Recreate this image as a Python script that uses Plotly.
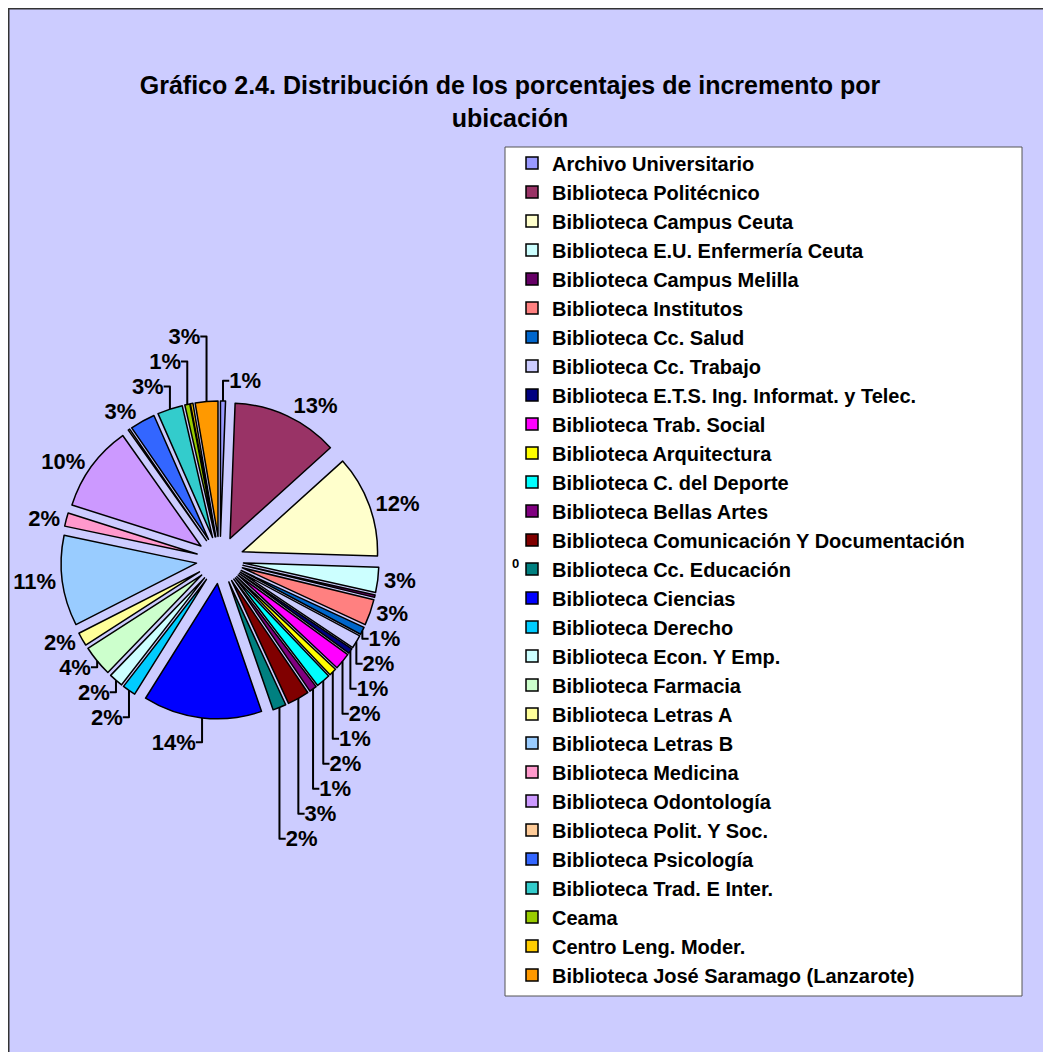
import plotly.graph_objects as go

# ---- data ----
labels = [
    "Archivo Universitario",
    "Biblioteca Politécnico",
    "Biblioteca Campus Ceuta",
    "Biblioteca E.U. Enfermería Ceuta",
    "Biblioteca Campus Melilla",
    "Biblioteca Institutos",
    "Biblioteca Cc. Salud",
    "Biblioteca Cc. Trabajo",
    "Biblioteca E.T.S. Ing. Informat. y Telec.",
    "Biblioteca Trab. Social",
    "Biblioteca Arquitectura",
    "Biblioteca C. del Deporte",
    "Biblioteca Bellas Artes",
    "Biblioteca Comunicación Y Documentación",
    "Biblioteca Cc. Educación",
    "Biblioteca Ciencias",
    "Biblioteca Derecho",
    "Biblioteca Econ. Y Emp.",
    "Biblioteca Farmacia",
    "Biblioteca Letras A",
    "Biblioteca Letras B",
    "Biblioteca Medicina",
    "Biblioteca Odontología",
    "Biblioteca Polit. Y Soc.",
    "Biblioteca Psicología",
    "Biblioteca Trad. E Inter.",
    "Ceama",
    "Centro Leng. Moder.",
    "Biblioteca José Saramago (Lanzarote)",
]
values = [
    0.6, 12.7, 12.2, 3.0, 0.3, 3.1, 0.9, 1.6, 0.6, 2.0,
    0.9, 1.7, 0.9, 2.6, 1.6, 14.2, 1.6, 1.7, 3.7, 1.6,
    10.8, 1.6, 10.3, 0.2, 3.0, 3.0, 0.6, 0.3, 2.7,
]
colors = [
    "#9999FF", "#993366", "#FFFFCC", "#CCFFFF", "#660066", "#FF8080",
    "#0066CC", "#CCCCFF", "#000080", "#FF00FF", "#FFFF00", "#00FFFF",
    "#800080", "#800000", "#008080", "#0000FF", "#00CCFF", "#CCFFFF",
    "#CCFFCC", "#FFFF99", "#99CCFF", "#FF99CC", "#CC99FF", "#FFCC99",
    "#3366FF", "#33CCCC", "#99CC00", "#FFCC00", "#FF9900",
]
title_text = "Gráfico 2.4. Distribución de los porcentajes de incremento por<br>ubicación"

W, H = 1051, 1052
FONT = "Arial, Liberation Sans, sans-serif"

total = sum(values)
templates = ["%{percent:.0%}" if v / total >= 0.005 else "" for v in values]

fig = go.Figure()
fig.add_trace(go.Pie(
    labels=labels,
    values=values,
    sort=False,
    direction="clockwise",
    rotation=0,
    pull=[0.175] * len(values),
    marker=dict(colors=colors, line=dict(color="black", width=1.5)),
    texttemplate=templates,
    textposition="outside",
    textfont=dict(family=FONT, size=22, color="black", weight="bold"),
    domain=dict(x=[52 / W, 372 / W], y=[1 - 711 / H, 1 - 393 / H]),
    hoverinfo="label+percent",
    showlegend=True,
))

shapes = [
    # chart area frame
    dict(type="rect", xref="paper", yref="paper",
         x0=0.5 / W, x1=1.02, y0=-0.02, y1=1 - 0.5 / H,
         fillcolor="#CCCCFF", line=dict(color="#333333", width=2), layer="below"),
    # legend box
    dict(type="rect", xref="paper", yref="paper",
         x0=497 / W, x1=1014 / W, y0=1 - 988 / H, y1=1 - 139 / H,
         fillcolor="white", line=dict(color="#555555", width=1), layer="below"),
]

fig.update_layout(
    width=W, height=H,
    margin=dict(l=0, r=0, t=0, b=0, autoexpand=False),
    paper_bgcolor="#CCCCFF",
    plot_bgcolor="#CCCCFF",
    font=dict(family=FONT, color="black"),
    title=dict(
        text=title_text,
        x=502 / W, xanchor="center",
        y=1 - 86 / H, yanchor="top",
        font=dict(family=FONT, size=25, color="black", weight="bold"),
    ),
    legend=dict(
        x=504 / W, xanchor="left",
        y=1 - 135.5 / H, yanchor="top",
        bgcolor="rgba(0,0,0,0)",
        borderwidth=0,
        font=dict(family=FONT, size=20, color="black", weight="bold"),
        traceorder="normal",
    ),
    shapes=shapes,
    annotations=[
        dict(text="0", xref="paper", yref="paper", x=507 / W, y=1 - 555 / H,
             showarrow=False, font=dict(family=FONT, size=13, color="black", weight="bold")),
    ],
)

fig.write_html("out.html")
